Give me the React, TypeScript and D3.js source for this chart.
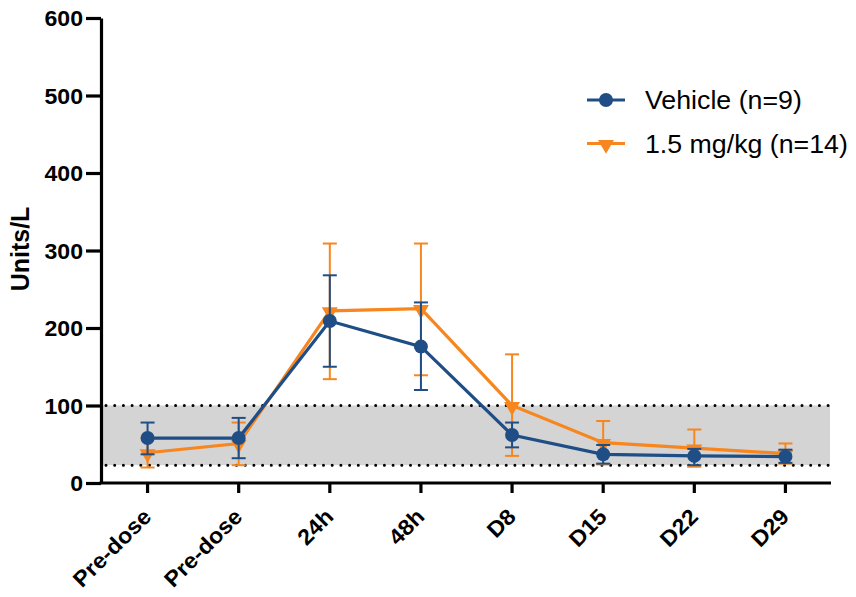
import * as d3 from "d3";
import React, { useEffect, useRef } from "react";

// time points on the x axis
const categories = ["Pre-dose", "Pre-dose", "24h", "48h", "D8", "D15", "D22", "D29"];
const yTicks = [0, 100, 200, 300, 400, 500, 600];

// Vehicle (n=9): mean, lower and upper error
const vehicleMean = [58, 58, 209, 176, 62, 37, 35, 34];
const vehicleLow = [37, 32, 150, 120, 46, 25, 23, 26];
const vehicleHigh = [78, 84, 268, 233, 78, 49, 44, 43];

// 1.5 mg/kg (n=14)
const doseMean = [39, 51, 222, 225, 100, 52, 45, 38];
const doseLow = [20, 23, 134, 139, 35, 24, 21, 25];
const doseHigh = [58, 78, 309, 309, 166, 80, 69, 51];

// normal range band
const refLow = 23;
const refHigh = 100;

const seriesNames = ["Vehicle (n=9)", "1.5 mg/kg (n=14)"];

const BLUE = "#1F4E86";
const ORANGE = "#F7861E";
const FONT = "'Liberation Sans', Arial, sans-serif";

function Chart() {
    const ref = useRef<SVGSVGElement | null>(null);

    function drawChart() {
        const svg = d3.select(ref.current);
        svg.selectAll("*").remove();

        const x = d3
            .scaleBand<string>()
            .domain(categories.map((_, i) => String(i)))
            .range([102, 831])
            .padding(0);
        const cx = (i: number) => (x(String(i)) as number) + x.bandwidth() / 2;
        const y = d3.scaleLinear().domain([0, 600]).range([483, 18]);

        // grey normal range
        svg.append("rect")
            .attr("x", 101)
            .attr("y", y(refHigh))
            .attr("width", 830 - 101)
            .attr("height", y(refLow) - y(refHigh))
            .attr("fill", "#d4d4d4");
        [refLow, refHigh].forEach((v) => {
            svg.append("line")
                .attr("x1", 106)
                .attr("x2", 830)
                .attr("y1", y(v))
                .attr("y2", y(v))
                .attr("stroke", "#000")
                .attr("stroke-width", 3)
                .attr("stroke-linecap", "round")
                .attr("stroke-dasharray", "0 8.7");
        });

        // axes
        const yAxis = svg
            .append("g")
            .attr("transform", "translate(101,0)")
            .call(d3.axisLeft(y).tickValues(yTicks).tickSize(15).tickSizeOuter(0));
        const xAxis = svg
            .append("g")
            .attr("transform", "translate(0,483)")
            .call(
                d3
                    .axisBottom(x)
                    .tickSize(10)
                    .tickSizeOuter(0)
                    .tickFormat((d) => categories[+d])
            );
        xAxis.select(".domain").attr("d", "M99.5,0H831");
        [yAxis, xAxis].forEach((g) => {
            g.selectAll("path, line").attr("stroke", "#000").attr("stroke-width", 3.2);
            g.selectAll("text")
                .attr("fill", "#000")
                .style("font-family", FONT)
                .style("font-weight", "bold")
                .style("font-size", "22px");
        });
        // the reference font is a little wider than Arial
        yAxis
            .selectAll("text")
            .attr("x", 0)
            .attr("dy", "0.35em")
            .attr("transform", "translate(-18,0) scale(1.05,1)");
        xAxis
            .selectAll("text")
            .attr("text-anchor", "end")
            .attr("dy", null)
            .attr("x", 0)
            .attr("y", 0)
            .attr("transform", "translate(5,35) rotate(-45) scale(1.06,1)");

        // y axis label
        svg.append("text")
            .attr("transform", "translate(29,249) rotate(-90)")
            .attr("text-anchor", "middle")
            .style("font-family", FONT)
            .style("font-weight", "bold")
            .style("font-size", "25px")
            .text("Units/L");

        const line = d3
            .line<number>()
            .x((_, i) => cx(i))
            .y((d) => y(d));

        const tri = d3.symbol().type(d3.symbolTriangle).size(110);

        const series = [
            { mean: doseMean, low: doseLow, high: doseHigh, color: ORANGE, shape: "tri" },
            { mean: vehicleMean, low: vehicleLow, high: vehicleHigh, color: BLUE, shape: "circle" },
        ];

        series.forEach((s) => {
            const g = svg.append("g");
            // error bars
            s.mean.forEach((_, i) => {
                const px = cx(i);
                g.append("line")
                    .attr("x1", px).attr("x2", px)
                    .attr("y1", y(s.low[i])).attr("y2", y(s.high[i]))
                    .attr("stroke", s.color).attr("stroke-width", 2);
                [s.low[i], s.high[i]].forEach((v) => {
                    g.append("line")
                        .attr("x1", px - 7).attr("x2", px + 7)
                        .attr("y1", y(v)).attr("y2", y(v))
                        .attr("stroke", s.color).attr("stroke-width", 2);
                });
            });
            g.append("path")
                .datum(s.mean)
                .attr("d", line)
                .attr("fill", "none")
                .attr("stroke", s.color)
                .attr("stroke-width", 3.2);
            s.mean.forEach((v, i) => {
                if (s.shape === "circle") {
                    g.append("circle").attr("cx", cx(i)).attr("cy", y(v)).attr("r", 7).attr("fill", s.color);
                } else {
                    g.append("path")
                        .attr("d", tri)
                        .attr("transform", `translate(${cx(i)},${y(v) + 1}) rotate(180)`)
                        .attr("fill", s.color);
                }
            });
        });

        // legend
        const legend = [
            { name: seriesNames[0], color: BLUE, shape: "circle" },
            { name: seriesNames[1], color: ORANGE, shape: "tri" },
        ];
        legend.forEach((l, i) => {
            const ly = 100 + i * 43.5;
            svg.append("line")
                .attr("x1", 587).attr("x2", 625)
                .attr("y1", ly).attr("y2", ly)
                .attr("stroke", l.color).attr("stroke-width", 3.2);
            if (l.shape === "circle") {
                svg.append("circle").attr("cx", 606).attr("cy", ly).attr("r", 7).attr("fill", l.color);
            } else {
                svg.append("path")
                    .attr("d", tri)
                    .attr("transform", `translate(606,${ly + 1}) rotate(180)`)
                    .attr("fill", l.color);
            }
            svg.append("text")
                .attr("transform", `translate(645,${ly + 9}) scale(1.07,1)`)
                .style("font-family", FONT)
                .style("font-size", "25px")
                .attr("fill", "#000")
                .text(l.name);
        });
    }

    useEffect(() => {
        drawChart();
    }, []);

    return (
        <svg
            ref={ref}
            width={856}
            height={597}
            style={{ position: "absolute", left: 0, top: 0, background: "#fff" }}
        />
    );
}

export default function App() {
    return <Chart />;
}
